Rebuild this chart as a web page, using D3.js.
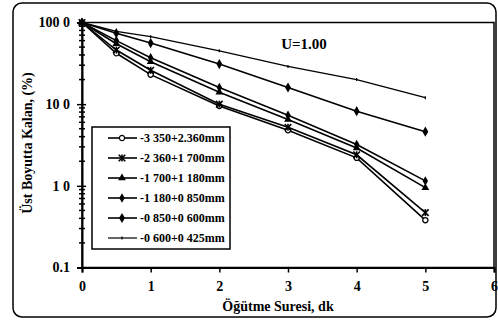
<!DOCTYPE html>
<html>
<head>
<meta charset="utf-8">
<script src="https://cdn.jsdelivr.net/npm/d3@7"></script>
<style>
  body { margin: 0; background: #fff; }
</style>
</head>
<body>
<div id="chart"></div>
<script>
// data
var times = [0, 0.5, 1, 2, 3, 4, 5];
var names = ["-3 350+2.360mm", "-2 360+1 700mm", "-1 700+1 180mm",
             "-1 180+0 850mm", "-0 850+0 600mm", "-0 600+0 425mm"];
var s1 = [100, 42, 23, 9.5, 4.8, 2.2, 0.38];
var s2 = [100, 46, 26, 10, 5.2, 2.4, 0.47];
var s3 = [100, 55, 33, 14, 6.5, 2.9, 0.95];
var s4 = [100, 60, 37, 16, 7.3, 3.2, 1.15];
var s5 = [100, 74, 56, 31, 16, 8.2, 4.6];
var s6 = [100, 78, 67, 45, 29, 20, 12];
var xTicks = [0, 1, 2, 3, 4, 5, 6];
var yTicks = [0.1, 1, 10, 100];
var yTickLabels = ["0.1", "1 0", "10 0", "100 0"];
var markers = ["circle", "star", "triangle", "diamond", "dot", "plus"];

var FONT = "'Liberation Serif', 'Times New Roman', 'DejaVu Serif', serif";

var W = 498, H = 323;
var margin = {top: 22.5, right: 4, bottom: 55.5, left: 82};
var width = W - margin.left - margin.right,
    height = H - margin.top - margin.bottom;

var svg = d3.select("#chart").append("svg")
    .attr("width", W).attr("height", H)
    .attr("font-family", FONT);

// outer rounded frame
svg.append("rect")
  .attr("x", 13).attr("y", 3).attr("width", 483).attr("height", 314)
  .attr("rx", 9)
  .attr("fill", "none").attr("stroke", "#000").attr("stroke-width", 1.5);

var g = svg.append("g")
  .attr("transform", "translate(" + margin.left + "," + margin.top + ")");

var x = d3.scaleLinear().domain([0, 6]).range([0, width]);
var y = d3.scaleLog().domain([0.1, 100]).range([height, 0]);

// plot frame
g.append("rect")
  .attr("width", width).attr("height", height)
  .attr("fill", "none").attr("stroke", "#000").attr("stroke-width", 1.5);

// x axis
var xAxis = g.append("g")
  .attr("transform", "translate(0," + height + ")")
  .call(d3.axisBottom(x).tickValues(xTicks).tickSize(5).tickPadding(9)
        .tickFormat(d3.format("d")));
xAxis.attr("font-family", FONT);
xAxis.select(".domain").attr("stroke-width", 2);
xAxis.selectAll("line").attr("stroke-width", 1.5);
xAxis.selectAll("text").attr("font-size", 14).attr("font-weight", "bold");

// y axis: minor ticks crossing the axis
var minor = [];
for (var e = -1; e < 2; e++) {
  for (var k = 2; k <= 9; k++) minor.push(k * Math.pow(10, e));
}
g.selectAll(".minor").data(minor).enter().append("line")
  .attr("class", "minor")
  .attr("x1", -3).attr("x2", 3)
  .attr("y1", function(d) { return y(d); })
  .attr("y2", function(d) { return y(d); })
  .attr("stroke", "#000").attr("stroke-width", 1.5);

var yAxis = g.append("g")
  .call(d3.axisLeft(y).tickValues(yTicks).tickSize(5).tickPadding(7)
        .tickFormat(function(d, i) { return yTickLabels[i]; }));
yAxis.attr("font-family", FONT);
yAxis.select(".domain").attr("stroke-width", 2);
yAxis.selectAll("line").attr("stroke-width", 1.5).attr("x2", -5).attr("x1", 4);
yAxis.selectAll("text").attr("font-size", 14).attr("font-weight", "bold");

// axis titles
svg.append("text")
  .attr("x", 278).attr("y", 311)
  .attr("text-anchor", "middle")
  .attr("font-size", 14).attr("font-weight", "bold")
  .text("Öğütme Suresi, dk");

svg.append("text")
  .attr("transform", "translate(32," + (margin.top + height / 2 - 2) + ") rotate(-90)")
  .attr("text-anchor", "middle")
  .attr("font-size", 14).attr("font-weight", "bold")
  .text("Üst Boyutta Kalan, (%)");

g.append("text")
  .attr("x", x(2.9)).attr("y", 26)
  .attr("font-size", 15).attr("font-weight", "bold")
  .text("U=1.00");

// markers
function drawMarker(sel, type) {
  if (type === "circle") {
    sel.append("circle").attr("r", 2.6).attr("fill", "#fff")
      .attr("stroke", "#000").attr("stroke-width", 1.3);
  } else if (type === "star") {
    sel.append("path").attr("d", d3.symbol(d3.symbolTimes, 30)())
      .attr("fill", "none").attr("stroke", "#000").attr("stroke-width", 1.6);
    sel.append("path").attr("d", "M0,-3.5V3.5")
      .attr("stroke", "#000").attr("stroke-width", 1.6);
  } else if (type === "triangle") {
    sel.append("path").attr("d", d3.symbol(d3.symbolTriangle, 26)())
      .attr("fill", "#000");
  } else if (type === "diamond") {
    sel.append("path").attr("d", d3.symbol(d3.symbolDiamond, 26)())
      .attr("fill", "#000");
  } else if (type === "dot") {
    sel.append("path").attr("d", d3.symbol(d3.symbolDiamond, 30)())
      .attr("fill", "#000");
  } else {
    sel.append("path").attr("d", "M0,-1.5V1.5")
      .attr("stroke", "#000").attr("stroke-width", 1.2);
  }
}

var allSeries = [s1, s2, s3, s4, s5, s6];
var line = d3.line()
  .x(function(d, i) { return x(times[i]); })
  .y(function(d) { return y(d); });

allSeries.forEach(function(vals, si) {
  g.append("path")
    .datum(vals)
    .attr("d", line)
    .attr("fill", "none")
    .attr("stroke", "#000")
    .attr("stroke-width", si === 5 ? 1.3 : 1.6);
  vals.forEach(function(v, i) {
    var m = g.append("g")
      .attr("transform", "translate(" + x(times[i]) + "," + y(v) + ")");
    drawMarker(m, markers[si]);
  });
});

// legend
var lg = svg.append("g").attr("transform", "translate(92,127)");
lg.append("rect")
  .attr("width", 138).attr("height", 122)
  .attr("fill", "#fff").attr("stroke", "#000").attr("stroke-width", 1.5);

names.forEach(function(n, i) {
  var row = lg.append("g").attr("transform", "translate(0," + (11 + i * 20) + ")");
  row.append("line")
    .attr("x1", 16).attr("x2", 45)
    .attr("stroke", "#000").attr("stroke-width", i === 5 ? 1.2 : 1.6);
  var m = row.append("g").attr("transform", "translate(30,0)");
  drawMarker(m, markers[i]);
  row.append("text")
    .attr("x", 48).attr("y", 4)
    .attr("font-size", 12).attr("font-weight", "bold")
    .text(n);
});
</script>
</body>
</html>
